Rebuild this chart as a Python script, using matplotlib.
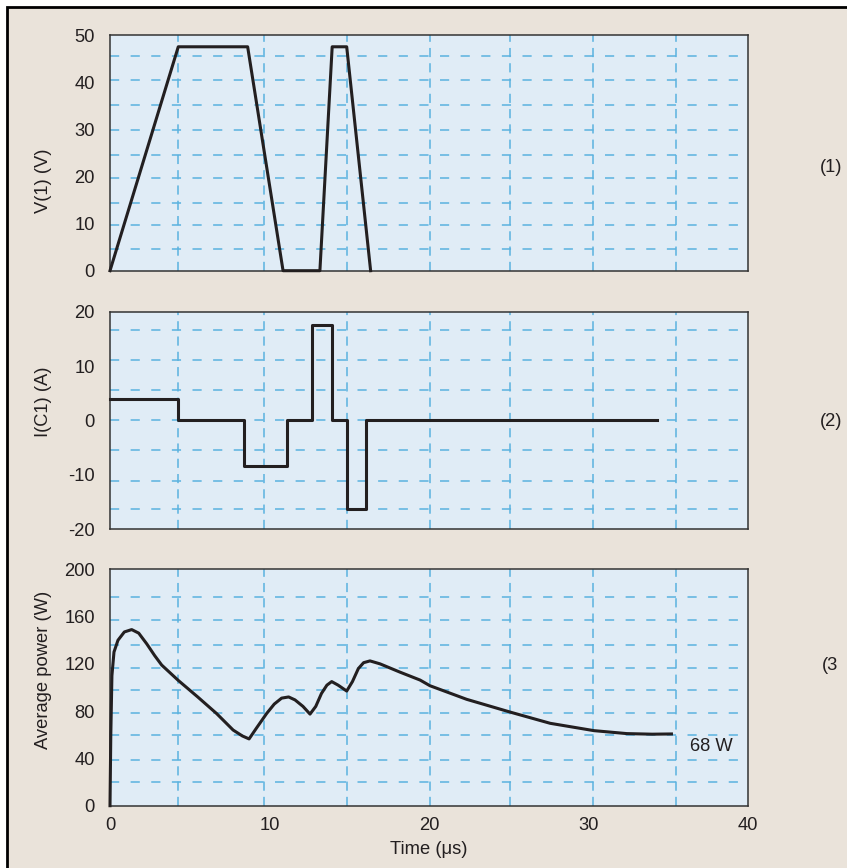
import numpy as np
import matplotlib
matplotlib.use("Agg")
import matplotlib.pyplot as plt
from matplotlib import font_manager
from matplotlib.patches import Rectangle

# font: narrow helvetica-like if there is one
names = {f.name for f in font_manager.fontManager.ttflist}
if "Liberation Sans Narrow" in names:
    FONT, FS = "Liberation Sans Narrow", 15
else:
    FONT, FS = "Liberation Sans", 13.2
plt.rcParams["font.family"] = [FONT, "DejaVu Sans"]

# ---- data ----
# panel 1: V(1) (V)
v_t = [0, 4.28, 8.63, 10.85, 13.16, 13.93, 14.84, 16.34]
v_val = [0, 47.5, 47.5, 0, 0, 47.5, 47.5, 0]

# panel 2: I(C1) (A), step shape
i_t = [0, 4.28, 4.28, 8.37, 8.37, 11.1, 11.1, 12.68, 12.68, 13.9, 13.9,
       14.84, 14.84, 16.03, 16.03, 34.3]
i_val = [4, 4, 0, 0, -8.4, -8.4, 0, 0, 17.5, 17.5, 0,
         0, -16.3, -16.3, 0, 0]

# panel 3: average power (W)
p_t = [0, 0.05, 0.12, 0.25, 0.5, 0.9, 1.36, 1.8, 2.3, 2.8, 3.24, 4.28,
       5.5, 6.68, 7.72, 8.3, 8.72, 9.2, 9.82, 10.3, 10.76, 11.2, 11.6,
       12.1, 12.54, 12.9, 13.26, 13.6, 13.9, 14.3, 14.84, 15.2, 15.57,
       15.9, 16.3, 16.93, 18.18, 19.44, 20.06, 22.36, 25.14, 27.6, 30.34,
       32.4, 34.0, 35.2]
p_val = [0, 60, 110, 130, 140, 147, 149, 146, 137, 127, 119, 106,
         92, 78, 64, 59, 56.5, 66, 78, 86, 91, 92, 89.5,
         84, 77.5, 84, 95, 102, 105, 102, 97, 105, 116,
         121, 122.5, 120, 113, 106.3, 101.5, 90, 79, 69.7, 63.5,
         61, 60.5, 60.7]

x_ticks = [0, 10, 20, 30, 40]
v_ticks = [0, 10, 20, 30, 40, 50]
i_ticks = [-20, -10, 0, 10, 20]
p_ticks = [0, 40, 80, 120, 160, 200]

# dashed grid positions (not on the tick values in the original)
x_grid = [4.28, 9.65, 14.86, 20.06, 25.1, 30.3, 35.5]
v_grid = [4.7, 9.6, 14.3, 19.6, 24.5, 29.8, 35.1, 40.4, 45.5]
i_grid = [-16.3, -11.1, -5.5, 0, 5.5, 11.1, 16.6]
p_grid = [19.8, 38.7, 59.8, 78.7, 97.9, 116.8, 136, 157, 176.3]

W, H = 847, 868
BG = "#EAE3DA"
PANEL = "#E0ECF6"
GRID = "#5AB2DF"
INK = "#231F20"

fig = plt.figure(figsize=(W / 100, H / 100), dpi=100)
fig.patch.set_facecolor("white")
frame = Rectangle((7 / W, -0.02), 1.05, 1.02 - 7 / H,
                  transform=fig.transFigure, facecolor=BG,
                  edgecolor="black", linewidth=2, zorder=-10)
fig.patches.append(frame)


def px_axes(top, bottom, left=110, right=748):
    return fig.add_axes([left / W, 1 - bottom / H, (right - left) / W,
                         (bottom - top) / H])


def style(ax, ylim, yticks, ygrid):
    ax.set_facecolor(PANEL)
    ax.set_xlim(0, 40)
    ax.set_ylim(*ylim)
    ax.set_yticks(yticks)
    ax.set_yticklabels([str(t) for t in yticks])
    ax.tick_params(length=0, labelsize=FS, colors=INK)
    ax.tick_params(axis="y", pad=11)
    ax.tick_params(axis="x", pad=8)
    for s in ax.spines.values():
        s.set_color("#333333")
        s.set_linewidth(1.1)
    for g in ygrid:
        ax.axhline(g, color=GRID, lw=1.1, ls=(0, (6, 7.5)), zorder=1)
    for g in x_grid:
        ax.axvline(g, color=GRID, lw=1.1, ls=(0, (6, 4)), zorder=1)


ax1 = px_axes(35, 270.7)
style(ax1, (0, 50), v_ticks, v_grid)
ax1.set_xticks([])
ax1.plot(v_t, v_val, color=INK, lw=2.2, zorder=3, clip_on=False)

ax2 = px_axes(311.7, 529)
style(ax2, (-20, 20), i_ticks, i_grid)
ax2.set_xticks([])
ax2.plot(i_t, i_val, color=INK, lw=2.2, zorder=3, clip_on=False)

ax3 = px_axes(569.3, 805.7)
style(ax3, (0, 200), p_ticks, p_grid)
ax3.set_xticks(x_ticks)
ax3.set_xticklabels([str(t) for t in x_ticks])
ax3.plot(p_t, p_val, color=INK, lw=2.2, zorder=3, clip_on=False)
ax3.text(36.36, 49.7, "68 W", fontsize=FS, color=INK, ha="left", va="center")

# axis labels and panel numbers
fig.text(43 / W, 1 - 181 / H, "V(1) (V)", rotation=90, ha="center",
         va="center", fontsize=FS, color=INK)
fig.text(43 / W, 1 - 402 / H, "I(C1) (A)", rotation=90, ha="center",
         va="center", fontsize=FS, color=INK)
fig.text(43 / W, 1 - 670 / H, "Average power (W)", rotation=90, ha="center",
         va="center", fontsize=FS, color=INK)
fig.text(429 / W, 1 - 850 / H, "Time (\u03bcs)", ha="center", va="center",
         fontsize=FS, color=INK)
fig.text(820 / W, 1 - 167 / H, "(1)", ha="left", va="center", fontsize=FS,
         color=INK)
fig.text(820 / W, 1 - 421 / H, "(2)", ha="left", va="center", fontsize=FS,
         color=INK)
fig.text(822 / W, 1 - 665 / H, "(3", ha="left", va="center", fontsize=FS,
         color=INK)

fig.savefig("out.png", dpi=100, facecolor=fig.get_facecolor())
